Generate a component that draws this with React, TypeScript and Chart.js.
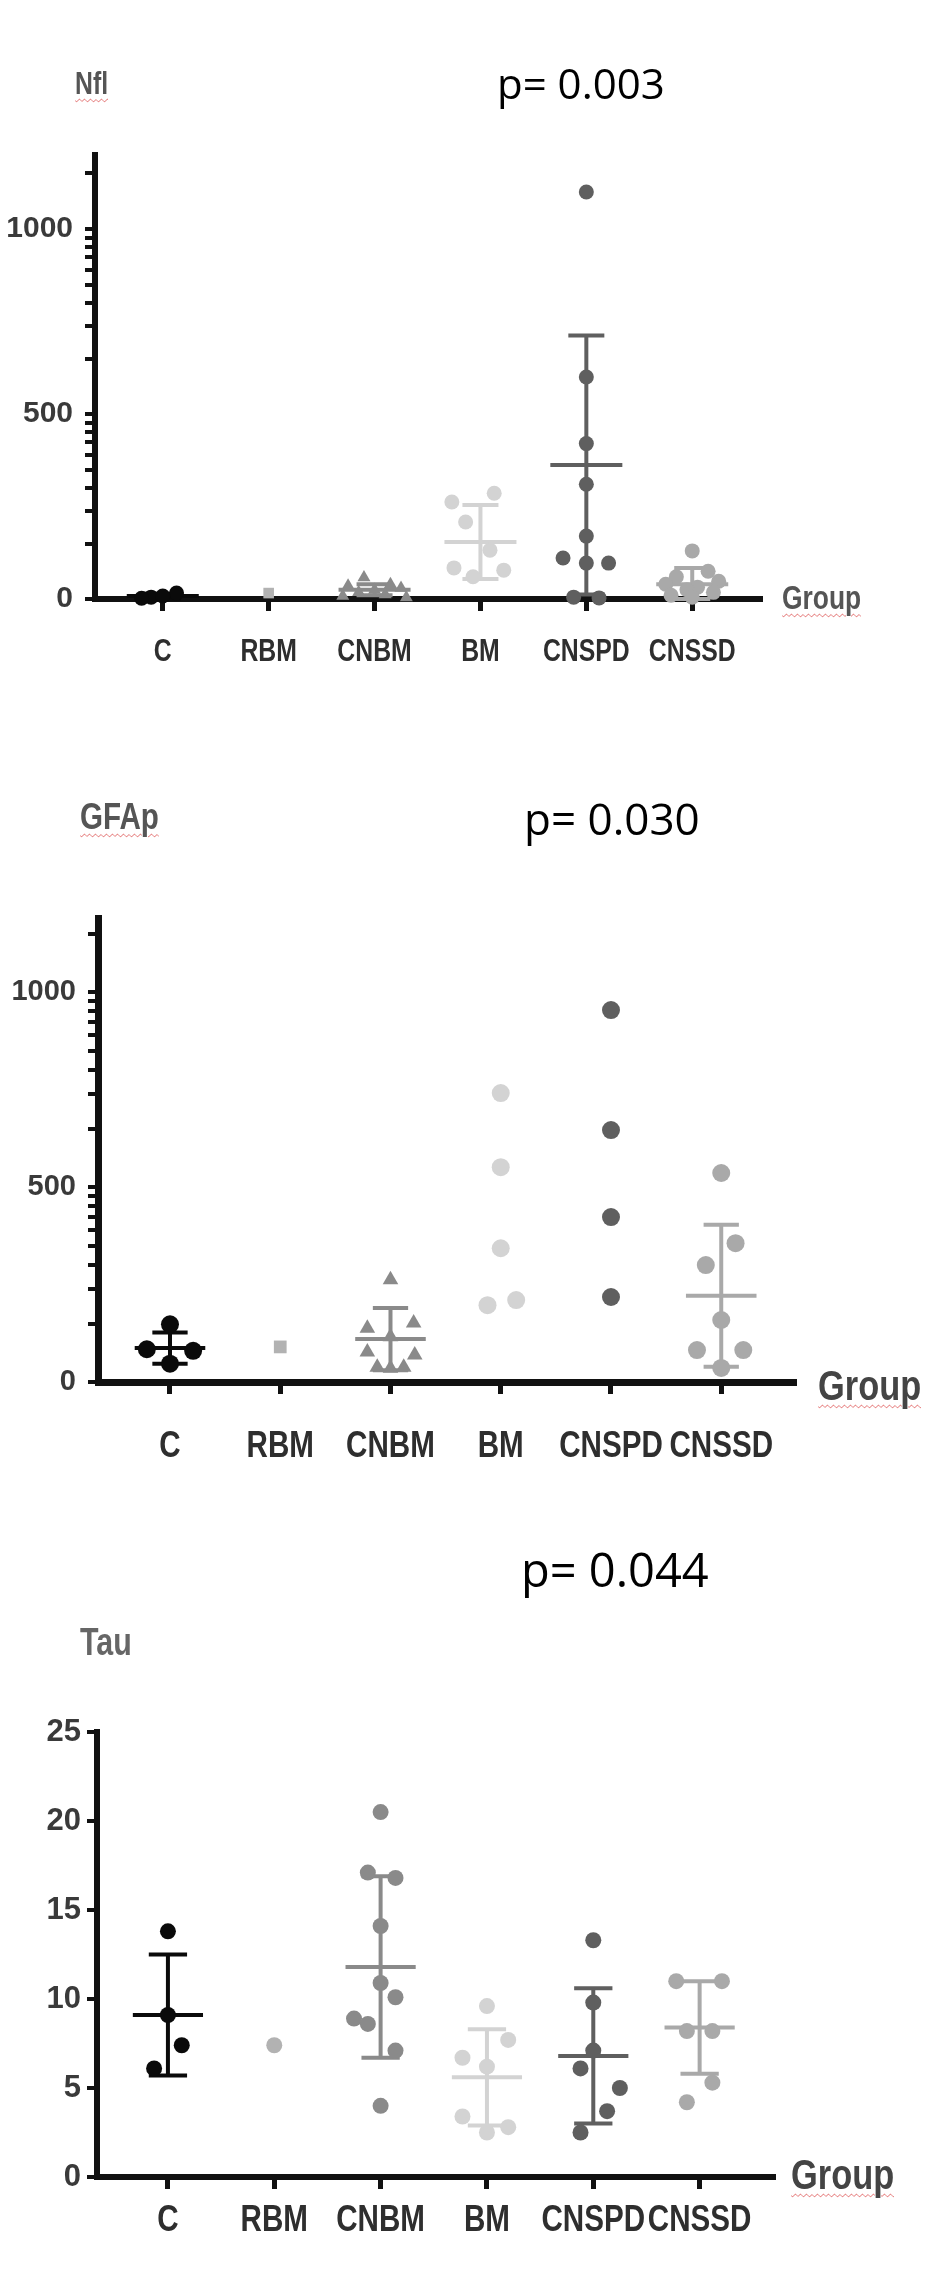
import React, { useEffect, useRef } from "react";
import { Chart, registerables } from "chart.js";

Chart.register(...registerables);

// ---------- categories ----------
const GROUPS = ["C", "RBM", "CNBM", "BM", "CNSPD", "CNSSD"];
const GROUP_COLORS = ["#0a0a0a", "#b2b2b2", "#8a8a8a", "#d3d3d3", "#5f5f5f", "#a9a9a9"];

// ---------- NfL panel ----------
const NFL_VALUES = [
  [16, 5, 8, 2],
  [16],
  [58, 40, 36, 30, 24, 18, 12, 8, 4],
  [286, 262, 208, 132, 84, 78, 60],
  [1100, 600, 420, 310, 170, 111, 97, 97, 5, 3],
  [130, 75, 60, 48, 40, 32, 25, 18, 10, 5],
];
const NFL_JITTER = [
  [0.13, -0.11, 0.0, -0.2],
  [0],
  [-0.1, 0.15, -0.25, 0.25, 0.0, -0.15, 0.1, -0.3, 0.3],
  [0.13, -0.27, -0.14, 0.09, -0.25, 0.22, -0.07],
  [0, 0, 0, 0, 0, -0.22, 0, 0.21, -0.12, 0.12],
  [0, 0.15, -0.15, 0.25, -0.25, 0.05, -0.05, 0.2, -0.2, 0.0],
];
const NFL_MEAN = [8, null, 25, 154, 362, 40];
const NFL_SD = [6, null, 15, 100, 350, 44];
const NFL_MAJOR_TICKS = [0, 500, 1000];
const NFL_MINOR_TICKS = [1150, 977, 952, 923, 889, 849, 801, 739, 649, 477, 452, 423, 389, 349, 301, 239, 149];

// ---------- GFAp panel ----------
const GFAP_VALUES = [
  [148, 84, 80, 47],
  [90],
  [262, 151, 138, 116, 77, 69, 38, 35, 38],
  [741, 551, 343, 210, 197],
  [954, 646, 423, 218],
  [536, 356, 300, 159, 82, 82, 36],
];
const GFAP_JITTER = [
  [0, -0.21, 0.21, 0],
  [0],
  [0, 0.21, -0.21, 0, -0.21, 0.22, -0.12, 0, 0.12],
  [0, 0, 0, 0.14, -0.12],
  [0, 0, 0, 0],
  [0, 0.13, -0.14, 0, -0.22, 0.2, 0],
];
const GFAP_MEAN = [87, null, 110, null, null, 221];
const GFAP_SD = [40, null, 80, null, null, 182];
const GFAP_MAJOR_TICKS = [0, 500, 1000];
const GFAP_MINOR_TICKS = [1150, 977, 952, 923, 889, 849, 801, 739, 649, 477, 452, 423, 389, 349, 301, 239, 149];

// ---------- Tau panel ----------
const TAU_VALUES = [
  [13.8, 9.1, 7.4, 6.1],
  [7.4],
  [20.5, 17.1, 16.8, 14.1, 10.9, 10.1, 8.9, 8.6, 7.1, 4.0],
  [9.6, 7.7, 6.7, 6.2, 3.4, 2.8, 2.5],
  [13.3, 9.8, 7.1, 6.1, 5.0, 3.7, 2.5],
  [11.0, 11.0, 8.2, 8.2, 5.3, 4.2],
];
const TAU_JITTER = [
  [0, 0, 0.13, -0.13],
  [0],
  [0, -0.12, 0.14, 0, 0, 0.14, -0.25, -0.12, 0.14, 0],
  [0, 0.2, -0.23, 0, -0.23, 0.2, 0],
  [0, 0, 0, -0.12, 0.25, 0.13, -0.12],
  [-0.22, 0.21, -0.12, 0.12, 0.12, -0.12],
];
const TAU_MEAN = [9.1, null, 11.8, 5.6, 6.8, 8.4];
const TAU_SD = [3.4, null, 5.1, 2.7, 3.8, 2.6];
const TAU_MAJOR_TICKS = [0, 5, 10, 15, 20, 25];
const TAU_MINOR_TICKS: number[] = [];

// ---------- layout (page pixels) ----------
const SANS = '"Liberation Sans", Arial, sans-serif';
const CONDENSE = 0.8;

const PANELS = [
  {
    top: 0, height: 720, areaTop: 155, zeroY: 599, axisX: 95, areaRight: 760,
    xMin: -0.64, xMax: 5.64, yMax: 1200,
    values: NFL_VALUES, jitter: NFL_JITTER, mean: NFL_MEAN, sd: NFL_SD,
    major: NFL_MAJOR_TICKS, minor: NFL_MINOR_TICKS,
    styles: ["circle", "rect", "triangle", "circle", "circle", "circle"],
    radius: 7.5, yFont: 30, yPad: 12, xFont: 31, labelY: 652, axisW: 6,
    meanHalf: 0.34, capHalf: 0.17, barW: 4,
  },
  {
    top: 730, height: 760, areaTop: 918, zeroY: 1382, axisX: 98, areaRight: 794,
    xMin: -0.653, xMax: 5.66, yMax: 1190,
    values: GFAP_VALUES, jitter: GFAP_JITTER, mean: GFAP_MEAN, sd: GFAP_SD,
    major: GFAP_MAJOR_TICKS, minor: GFAP_MINOR_TICKS,
    styles: ["circle", "rect", "triangle", "circle", "circle", "circle"],
    radius: 9, yFont: 29, yPad: 12, xFont: 37, labelY: 1447, axisW: 7,
    meanHalf: 0.32, capHalf: 0.16, barW: 4,
  },
  {
    top: 1490, height: 787, areaTop: 1732, zeroY: 2177, axisX: 97, areaRight: 773,
    xMin: -0.667, xMax: 5.69, yMax: 25,
    values: TAU_VALUES, jitter: TAU_JITTER, mean: TAU_MEAN, sd: TAU_SD,
    major: TAU_MAJOR_TICKS, minor: TAU_MINOR_TICKS,
    styles: ["circle", "circle", "circle", "circle", "circle", "circle"],
    radius: 8, yFont: 31, yPad: 6, xFont: 37, labelY: 2221, axisW: 6,
    meanHalf: 0.33, capHalf: 0.18, barW: 4,
  },
];

const X_AXIS_H = 90;

const TEXTS = [
  { text: "Nfl", left: 75, cy: 83, size: 31, weight: 700, color: "#555", wavy: true, condensed: true, family: SANS },
  { text: "p= 0.003", left: 497, cy: 83, size: 42, weight: 400, color: "#000", wavy: false, condensed: false, family: '"Open Sans", sans-serif' },
  { text: "Group", left: 782, cy: 597, size: 33, weight: 700, color: "#555", wavy: true, condensed: true, family: SANS },
  { text: "GFAp", left: 80, cy: 816, size: 37, weight: 700, color: "#555", wavy: true, condensed: true, family: SANS },
  { text: "p= 0.030", left: 524, cy: 818, size: 44, weight: 400, color: "#000", wavy: false, condensed: false, family: '"Open Sans", sans-serif' },
  { text: "Group", left: 818, cy: 1385, size: 43, weight: 700, color: "#444", wavy: true, condensed: true, family: SANS },
  { text: "Tau", left: 80, cy: 1642, size: 38, weight: 700, color: "#666", wavy: false, condensed: true, family: SANS },
  { text: "p= 0.044", left: 521, cy: 1569, size: 47, weight: 400, color: "#000", wavy: false, condensed: false, family: '"Open Sans", sans-serif' },
  { text: "Group", left: 791, cy: 2174, size: 43, weight: 700, color: "#444", wavy: true, condensed: true, family: SANS },
];

function Panel({ cfg }: { cfg: any }) {
  const ref = useRef<HTMLCanvasElement>(null);
  useEffect(() => {
    const canvas = ref.current!;
    const padTop = cfg.areaTop - cfg.top;
    const padBottom = cfg.top + cfg.height - cfg.zeroY - X_AXIS_H;
    const majorSet = new Set(cfg.major);
    const allTicks = [...cfg.major, ...cfg.minor].sort((a: number, b: number) => a - b);

    const datasets = GROUPS.map((g, gi) => ({
      label: g,
      data: cfg.values[gi].map((v: number, j: number) => ({ x: gi + cfg.jitter[gi][j], y: v })),
      pointStyle: cfg.styles[gi],
      pointRadius: cfg.radius,
      pointHoverRadius: cfg.radius,
      backgroundColor: GROUP_COLORS[gi],
      borderColor: GROUP_COLORS[gi],
      borderWidth: 0,
      clip: false as any,
    }));

    const errorBars = {
      id: "errorBars",
      beforeDatasetsDraw(chart: any) {
        const { ctx } = chart;
        const xs = chart.scales.x;
        const ys = chart.scales.y;
        ctx.save();
        ctx.lineCap = "butt";
        GROUPS.forEach((_, gi) => {
          const m = cfg.mean[gi];
          const s = cfg.sd[gi];
          if (m === null || s === null) return;
          ctx.strokeStyle = GROUP_COLORS[gi];
          ctx.lineWidth = cfg.barW;
          const yM = ys.getPixelForValue(m);
          const yT = ys.getPixelForValue(m + s);
          const yB = ys.getPixelForValue(Math.max(0, m - s));
          const xc = xs.getPixelForValue(gi);
          ctx.beginPath();
          ctx.moveTo(xs.getPixelForValue(gi - cfg.meanHalf), yM);
          ctx.lineTo(xs.getPixelForValue(gi + cfg.meanHalf), yM);
          ctx.moveTo(xc, yT);
          ctx.lineTo(xc, yB);
          ctx.moveTo(xs.getPixelForValue(gi - cfg.capHalf), yT);
          ctx.lineTo(xs.getPixelForValue(gi + cfg.capHalf), yT);
          ctx.moveTo(xs.getPixelForValue(gi - cfg.capHalf), yB);
          ctx.lineTo(xs.getPixelForValue(gi + cfg.capHalf), yB);
          ctx.stroke();
        });
        ctx.restore();
      },
    };

    // category labels, drawn at the x scale's tick positions in a condensed face
    const condensedLabels = {
      id: "condensedLabels",
      afterDraw(chart: any) {
        const { ctx } = chart;
        const xs = chart.scales.x;
        ctx.save();
        ctx.font = `bold ${cfg.xFont}px ${SANS}`;
        ctx.fillStyle = "#2e2e2e";
        ctx.textAlign = "center";
        ctx.textBaseline = "middle";
        xs.ticks.forEach((t: any) => {
          const name = GROUPS[Math.round(t.value)];
          if (name === undefined) return;
          ctx.save();
          ctx.translate(xs.getPixelForValue(t.value), cfg.labelY - cfg.top);
          ctx.scale(CONDENSE, 1);
          ctx.fillText(name, 0, 0);
          ctx.restore();
        });
        ctx.restore();
      },
    };

    const chart = new Chart(canvas, {
      type: "scatter",
      data: { datasets },
      plugins: [errorBars, condensedLabels],
      options: {
        animation: false,
        responsive: false,
        events: [],
        layout: {
          padding: { top: padTop, left: 0, right: 945 - cfg.areaRight, bottom: padBottom },
        },
        plugins: { legend: { display: false }, tooltip: { enabled: false } },
        scales: {
          x: {
            type: "linear",
            min: cfg.xMin,
            max: cfg.xMax,
            afterBuildTicks: (s: any) => {
              s.ticks = GROUPS.map((_, i) => ({ value: i }));
            },
            afterFit: (s: any) => {
              s.height = X_AXIS_H;
            },
            ticks: { display: false, autoSkip: false, maxRotation: 0 },
            grid: {
              display: true,
              drawOnChartArea: false,
              drawTicks: true,
              tickLength: 12,
              tickWidth: 5,
              tickColor: "#111",
              lineWidth: 5,
              color: "#111",
            },
            border: { display: true, width: cfg.axisW, color: "#111" },
          },
          y: {
            type: "linear",
            min: 0,
            max: cfg.yMax,
            afterBuildTicks: (s: any) => {
              s.ticks = allTicks.map((v: number) => ({ value: v }));
            },
            afterFit: (s: any) => {
              s.width = cfg.axisX;
            },
            ticks: {
              autoSkip: false,
              padding: cfg.yPad,
              color: "#3a3a3a",
              font: { family: SANS, size: cfg.yFont, weight: "bold" },
              callback: (v: any) => (majorSet.has(Number(v)) ? String(v) : ""),
            },
            grid: {
              display: true,
              drawOnChartArea: false,
              drawTicks: true,
              tickLength: 10,
              tickWidth: 4,
              tickColor: "#111",
              lineWidth: 4,
              color: "#111",
            },
            border: { display: true, width: cfg.axisW, color: "#111" },
          },
        },
      } as any,
    });
    return () => chart.destroy();
  }, []);
  return (
    <canvas
      ref={ref}
      width={945}
      height={cfg.height}
      style={{ position: "absolute", left: 0, top: cfg.top, width: 945, height: cfg.height }}
    />
  );
}

export default function App() {
  return (
    <div
      style={{
        position: "absolute",
        left: 0,
        top: 0,
        width: 945,
        height: 2277,
        background: "#fff",
        overflow: "hidden",
      }}
    >
      {PANELS.map((p, i) => (
        <Panel key={i} cfg={p} />
      ))}
      {TEXTS.map((t, i) => (
        <div
          key={"t" + i}
          style={{
            position: "absolute",
            left: t.left,
            top: t.cy - t.size * 0.5,
            fontFamily: t.family,
            fontSize: t.size,
            fontWeight: t.weight,
            color: t.color,
            lineHeight: 1,
            whiteSpace: "nowrap",
            transform: t.condensed ? `scaleX(${CONDENSE})` : undefined,
            transformOrigin: "left center",
            textDecoration: t.wavy ? "underline wavy #e06060" : "none",
            textDecorationThickness: t.wavy ? "1px" : undefined,
            textUnderlineOffset: t.wavy ? "4px" : undefined,
          }}
        >
          {t.text}
        </div>
      ))}
    </div>
  );
}
